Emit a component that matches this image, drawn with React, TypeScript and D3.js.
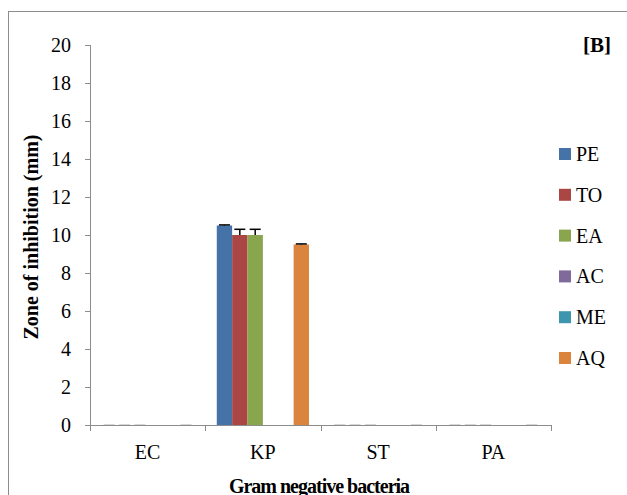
import React from "react";
import * as d3 from "d3";

const categories = ["EC", "KP", "ST", "PA"];
const seriesNames = ["PE", "TO", "EA", "AC", "ME", "AQ"];
const seriesColors = ["#4572A7", "#AA4643", "#89A54E", "#80699B", "#3D96AE", "#DB843D"];
const PE = [0, 10.5, 0, 0];
const TO = [0, 10, 0, 0];
const EA = [0, 10, 0, 0];
const AC: (number | null)[] = [null, null, null, null];
const ME: (number | null)[] = [null, null, null, null];
const AQ = [0, 9.5, 0, 0];
const PE_err = [0, 0.03, 0, 0];
const TO_err = [0, 0.3, 0, 0];
const EA_err = [0, 0.3, 0, 0];
const AC_err: (number | null)[] = [null, null, null, null];
const ME_err: (number | null)[] = [null, null, null, null];
const AQ_err = [0, 0.03, 0, 0];
const yTicks = [0, 2, 4, 6, 8, 10, 12, 14, 16, 18, 20];

const values = [PE, TO, EA, AC, ME, AQ];
const errors = [PE_err, TO_err, EA_err, AC_err, ME_err, AQ_err];

const FONT = "'Liberation Serif', serif";

export default function App() {
  const left = 90, right = 551, top = 45, bottom = 425;
  const y = d3.scaleLinear().domain([0, 20]).range([bottom, top]);
  const x0 = d3.scaleBand().domain(categories).range([left, right]).paddingInner(0).paddingOuter(0);
  const bw = x0.bandwidth();
  const barW = bw / (seriesNames.length + 1.5);
  const x1 = d3.scaleBand().domain(seriesNames).range([barW * 0.75, bw - barW * 0.75]).padding(0);
  const axisColor = "#8c8c8c";

  return (
    <svg width={627} height={495} style={{ position: "absolute", left: 0, top: 0, background: "#fff" }}>
      <rect x={8.5} y={11.5} width={700} height={600} fill="#fff" stroke="#8c8c8c" strokeWidth={1} />
      {/* bars */}
      {categories.map((c, ci) =>
        seriesNames.map((s, si) => {
          const v = values[si][ci];
          if (v == null || v === 0) return null;
          return (
            <rect key={c + s} x={(x0(c) as number) + (x1(s) as number)} y={y(v)} width={x1.bandwidth()}
              height={y(0) - y(v)} fill={seriesColors[si]} />
          );
        })
      )}
      {/* error bars */}
      {categories.map((c, ci) =>
        seriesNames.map((s, si) => {
          const v = values[si][ci];
          const e = errors[si][ci];
          if (v == null || e == null) return null;
          const cx = (x0(c) as number) + (x1(s) as number) + x1.bandwidth() / 2;
          const yt = y(v + e);
          const stroke = v === 0 ? "#c8c8c8" : "#000";
          return (
            <g key={"e" + c + s} stroke={stroke} strokeWidth={1.5}>
              <line x1={cx} x2={cx} y1={y(v)} y2={yt} />
              <line x1={cx - 5.5} x2={cx + 5.5} y1={yt} y2={yt} />
            </g>
          );
        })
      )}
      {/* y axis */}
      <line x1={left + 0.5} x2={left + 0.5} y1={top} y2={bottom} stroke={axisColor} />
      {yTicks.map((t) => (
        <g key={t}>
          <line x1={left - 5} x2={left + 0.5} y1={Math.round(y(t)) + 0.5} y2={Math.round(y(t)) + 0.5} stroke={axisColor} />
          <text x={71} y={y(t)} dy="0.35em" textAnchor="end" fontFamily={FONT} fontSize={20} fill="#000">{t}</text>
        </g>
      ))}
      {/* x axis */}
      <line x1={left} x2={right} y1={bottom + 0.5} y2={bottom + 0.5} stroke={axisColor} />
      {[...categories.map((c) => x0(c) as number), right].map((px, i) => (
        <line key={i} x1={Math.round(px) + 0.5} x2={Math.round(px) + 0.5} y1={bottom} y2={bottom + 6} stroke={axisColor} />
      ))}
      {categories.map((c) => (
        <text key={c} x={(x0(c) as number) + bw / 2} y={452} dy="0.35em" textAnchor="middle" fontFamily={FONT} fontSize={20}>{c}</text>
      ))}
      <text x={319} y={486} dy="0.35em" textAnchor="middle" fontFamily={FONT} fontSize={20} fontWeight="bold" letterSpacing={-1}>Gram negative bacteria</text>
      <text transform={`translate(31,${(top + bottom) / 2 + 2}) rotate(-90)`} dy="0.35em" textAnchor="middle" fontFamily={FONT} fontSize={20} fontWeight="bold">Zone of inhibition (mm)</text>
      <text x={611} y={45} dy="0.35em" textAnchor="end" fontFamily={FONT} fontSize={21} fontWeight="bold">[B]</text>
      {/* legend */}
      {seriesNames.map((s, i) => {
        const ly = 154 + i * 40.8;
        return (
          <g key={s}>
            <rect x={559} y={ly - 6} width={12} height={12} fill={seriesColors[i]} />
            <text x={576} y={ly} dy="0.35em" fontFamily={FONT} fontSize={20}>{s}</text>
          </g>
        );
      })}
    </svg>
  );
}
